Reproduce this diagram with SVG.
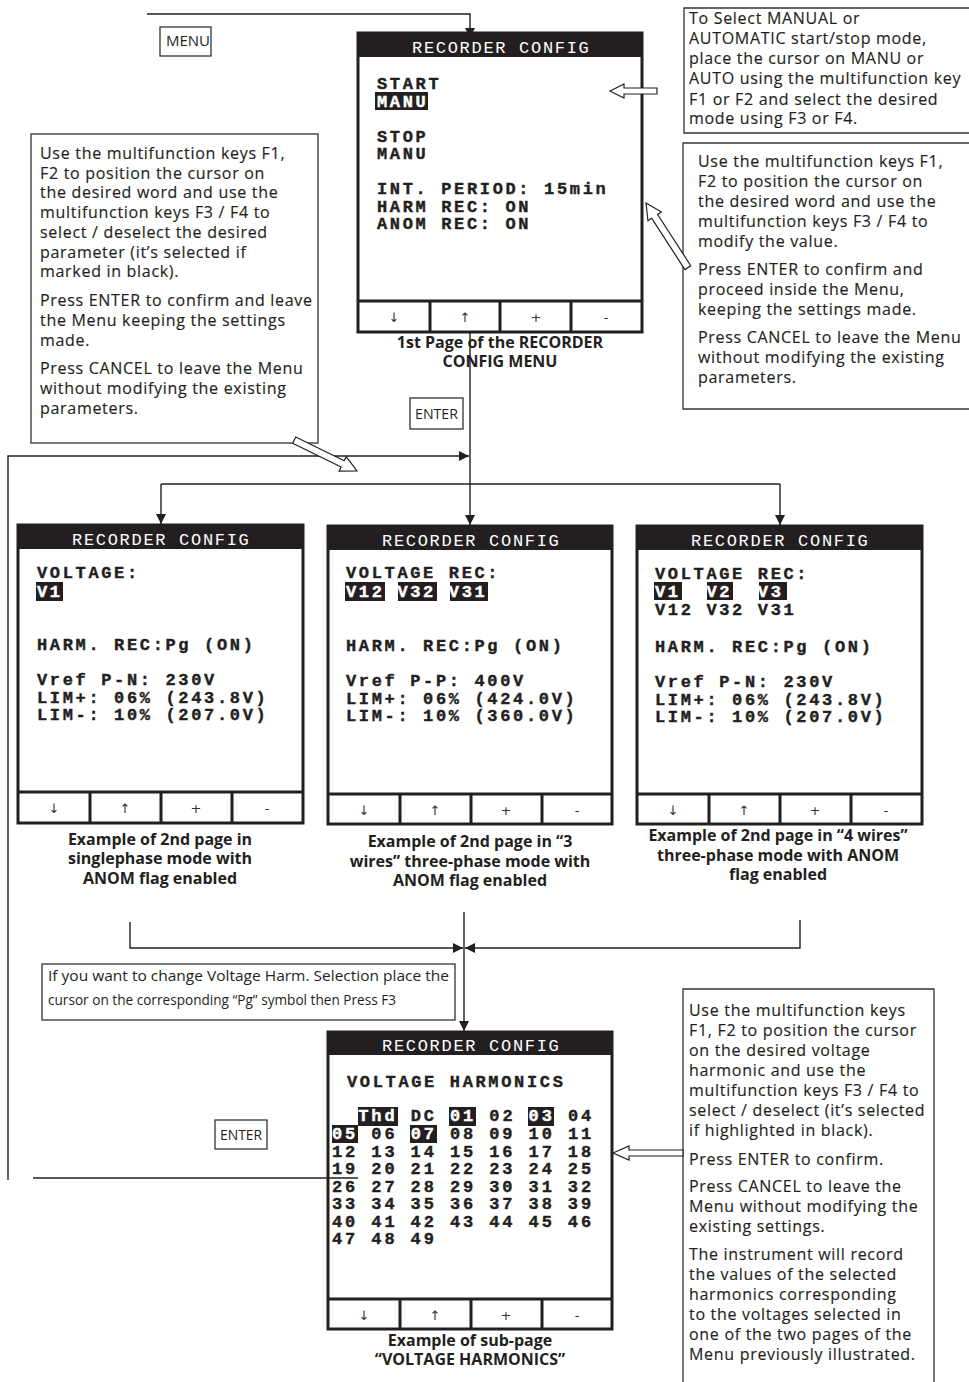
<svg xmlns="http://www.w3.org/2000/svg" width="969" height="1382" viewBox="0 0 969 1382">
<defs>
<style>
.scr{fill:#fff;stroke:#231f20;stroke-width:3}
.hdr{fill:#231f20}
.kl{stroke:#231f20;stroke-width:3;fill:none}
.ht{font-family:"Liberation Mono",monospace;font-size:17px;letter-spacing:1.7px;fill:#fff}
.st{font-family:"Liberation Mono",monospace;font-size:17px;font-weight:bold;letter-spacing:2.65px;fill:#231f20;stroke:#231f20;stroke-width:0.4}
.gt{font-family:"Liberation Mono",monospace;font-size:17px;font-weight:bold;letter-spacing:2.9px;fill:#231f20;stroke:#231f20;stroke-width:0.4}
.w{fill:#fff;stroke:#fff}
.hl{fill:#231f20}
.key{font-family:"DejaVu Sans",sans-serif;font-size:13px;fill:#333;text-anchor:middle}
.p{font-family:"Open Sans",sans-serif;font-size:16px;letter-spacing:0.7px;fill:#231f20;stroke:#231f20;stroke-width:0.15}
.cap{font-family:"Open Sans",sans-serif;font-size:16px;font-weight:bold;fill:#231f20;text-anchor:middle}
.cond{font-family:"Open Sans",sans-serif;font-size:15px;fill:#231f20}
.box{fill:none;stroke:#333;stroke-width:1.3}
.ln{fill:none;stroke:#231f20;stroke-width:1.4}
.hol{fill:#fff;stroke:#231f20;stroke-width:1.2}
</style>
<marker id="ah" viewBox="0 0 10 10" refX="10" refY="5" markerWidth="10" markerHeight="10" markerUnits="userSpaceOnUse" orient="auto">
<path d="M0,0 L10,5 L0,10 z" fill="#231f20"/>
</marker>
</defs>
<rect width="969" height="1382" fill="#fff"/>

<g id="connectors">
<path class="ln" d="M147,14 H470 V38" marker-end="url(#ah)"/>
<path class="ln" d="M470,332 V525" marker-end="url(#ah)"/>
<path class="ln" d="M8,1180 V456 H469" marker-end="url(#ah)"/>
<path class="ln" d="M161,484 H780"/>
<path class="ln" d="M161,484 V524" marker-end="url(#ah)"/>
<path class="ln" d="M780,484 V525" marker-end="url(#ah)"/>
<path class="ln" d="M130,922 V948 H463" marker-end="url(#ah)"/>
<path class="ln" d="M800,920 V948 H465" marker-end="url(#ah)"/>
<path class="ln" d="M464,912 V1031" marker-end="url(#ah)"/>
</g>

<g id="menu-key">
<rect class="box" x="160" y="27" width="51" height="29"/>
<text class="cond" x="166" y="46" font-size="13">MENU</text>
</g>
<g id="enter-key-1">
<rect class="box" x="410" y="398" width="53" height="31"/>
<text class="cond" x="415" y="419" textLength="43" lengthAdjust="spacingAndGlyphs">ENTER</text>
</g>
<g id="enter-key-2">
<rect class="box" x="215" y="1120" width="52" height="29"/>
<text class="cond" x="220" y="1140" textLength="42" lengthAdjust="spacingAndGlyphs">ENTER</text>
</g>

<g id="screen-1">
<rect class="scr" x="358" y="33" width="284" height="299"/>
<rect class="hdr" x="358" y="33" width="284" height="24"/>
<text class="ht" x="412" y="53">RECORDER CONFIG</text>
<text class="st" x="377" y="89">START</text>
<rect class="hl" x="375" y="92" width="53" height="18"/>
<text class="st w" x="377" y="107">MANU</text>
<text class="st" x="377" y="142">STOP</text>
<text class="st" x="377" y="159">MANU</text>
<text class="st" x="377" y="194" xml:space="preserve">INT. PERIOD: 15min</text>
<text class="st" x="377" y="212">HARM REC: ON</text>
<text class="st" x="377" y="229">ANOM REC: ON</text>
<path class="kl" d="M358,301 H642 M430,301 V332 M500,301 V332 M571,301 V332"/>
<text class="key" x="394" y="322">↓</text>
<text class="key" x="465" y="322">↑</text>
<text class="key" x="536" y="322">+</text>
<text class="key" x="606" y="322">-</text>
<text class="cap" x="500" y="348">1st Page of the RECORDER</text>
<text class="cap" x="500" y="367">CONFIG MENU</text>
</g>

<g id="note-start-stop">
<path class="box" d="M969,8 H684 V133 H969"/>
<text class="p" x="689" y="24">To Select MANUAL or</text>
<text class="p" x="689" y="44">AUTOMATIC start/stop mode,</text>
<text class="p" x="689" y="64">place the cursor on MANU or</text>
<text class="p" x="689" y="84">AUTO using the multifunction key</text>
<text class="p" x="689" y="105">F1 or F2 and select the desired</text>
<text class="p" x="689" y="124">mode using F3 or F4.</text>
</g>

<g id="note-modify">
<path class="box" d="M969,143 H683 V409 H969"/>
<text class="p" x="698" y="167">Use the multifunction keys F1,</text>
<text class="p" x="698" y="187">F2 to position the cursor on</text>
<text class="p" x="698" y="207">the desired word and use the</text>
<text class="p" x="698" y="227">multifunction keys F3 / F4 to</text>
<text class="p" x="698" y="247">modify the value.</text>
<text class="p" x="698" y="275">Press ENTER to confirm and</text>
<text class="p" x="698" y="295">proceed inside the Menu,</text>
<text class="p" x="698" y="315">keeping the settings made.</text>
<text class="p" x="698" y="343">Press CANCEL to leave the Menu</text>
<text class="p" x="698" y="363">without modifying the existing</text>
<text class="p" x="698" y="383">parameters.</text>
</g>

<g id="note-select">
<rect class="box" x="31" y="134" width="287" height="309"/>
<text class="p" x="40" y="159">Use the multifunction keys F1,</text>
<text class="p" x="40" y="179">F2 to position the cursor on</text>
<text class="p" x="40" y="198">the desired word and use the</text>
<text class="p" x="40" y="218">multifunction keys F3 / F4 to</text>
<text class="p" x="40" y="238">select / deselect the desired</text>
<text class="p" x="40" y="258">parameter (it’s selected if</text>
<text class="p" x="40" y="277">marked in black).</text>
<text class="p" x="40" y="306">Press ENTER to confirm and leave</text>
<text class="p" x="40" y="326">the Menu keeping the settings</text>
<text class="p" x="40" y="346">made.</text>
<text class="p" x="40" y="374">Press CANCEL to leave the Menu</text>
<text class="p" x="40" y="394">without modifying the existing</text>
<text class="p" x="40" y="414">parameters.</text>
</g>

<g id="screen-2a">
<rect class="scr" x="18" y="525" width="285" height="298"/>
<rect class="hdr" x="18" y="525" width="285" height="24"/>
<text class="ht" x="72" y="545">RECORDER CONFIG</text>
<text class="st" x="37" y="578">VOLTAGE:</text>
<rect class="hl" x="36" y="582" width="27" height="19"/>
<text class="st w" x="37" y="597">V1</text>
<text class="st" x="37" y="650" xml:space="preserve">HARM. REC:Pg (ON)</text>
<text class="st" x="37" y="685">Vref P-N: 230V</text>
<text class="st" x="37" y="703">LIM+: 06% (243.8V)</text>
<text class="st" x="37" y="720">LIM-: 10% (207.0V)</text>
<path class="kl" d="M18,792 H303 M90,792 V823 M161,792 V823 M232,792 V823"/>
<text class="key" x="54" y="813">↓</text>
<text class="key" x="125" y="813">↑</text>
<text class="key" x="196" y="813">+</text>
<text class="key" x="267" y="813">-</text>
<text class="cap" x="160" y="845">Example of 2nd page in</text>
<text class="cap" x="160" y="864">singlephase mode with</text>
<text class="cap" x="160" y="884">ANOM flag enabled</text>
</g>

<g id="screen-2b">
<rect class="scr" x="328" y="526" width="284" height="298"/>
<rect class="hdr" x="328" y="526" width="284" height="24"/>
<text class="ht" x="382" y="546">RECORDER CONFIG</text>
<text class="st" x="346" y="578">VOLTAGE REC:</text>
<rect class="hl" x="345" y="582" width="40" height="19"/>
<rect class="hl" x="398" y="582" width="39" height="19"/>
<rect class="hl" x="450" y="582" width="38" height="19"/>
<text class="st w" x="346" y="597" xml:space="preserve">V12 V32 V31</text>
<text class="st" x="346" y="651" xml:space="preserve">HARM. REC:Pg (ON)</text>
<text class="st" x="346" y="686">Vref P-P: 400V</text>
<text class="st" x="346" y="704">LIM+: 06% (424.0V)</text>
<text class="st" x="346" y="721">LIM-: 10% (360.0V)</text>
<path class="kl" d="M328,794 H612 M400,794 V824 M471,794 V824 M542,794 V824"/>
<text class="key" x="364" y="815">↓</text>
<text class="key" x="435" y="815">↑</text>
<text class="key" x="506" y="815">+</text>
<text class="key" x="577" y="815">-</text>
<text class="cap" x="470" y="847">Example of 2nd page in “3</text>
<text class="cap" x="470" y="867">wires” three-phase mode with</text>
<text class="cap" x="470" y="886">ANOM flag enabled</text>
</g>

<g id="screen-2c">
<rect class="scr" x="637" y="526" width="285" height="298"/>
<rect class="hdr" x="637" y="526" width="285" height="24"/>
<text class="ht" x="691" y="546">RECORDER CONFIG</text>
<text class="st" x="655" y="579">VOLTAGE REC:</text>
<rect class="hl" x="654" y="582" width="28" height="18"/>
<rect class="hl" x="707" y="582" width="26" height="18"/>
<rect class="hl" x="759" y="582" width="28" height="18"/>
<text class="st w" x="655" y="597" xml:space="preserve">V1  V2  V3</text>
<text class="st" x="655" y="615" xml:space="preserve">V12 V32 V31</text>
<text class="st" x="655" y="652" xml:space="preserve">HARM. REC:Pg (ON)</text>
<text class="st" x="655" y="687">Vref P-N: 230V</text>
<text class="st" x="655" y="705">LIM+: 06% (243.8V)</text>
<text class="st" x="655" y="722">LIM-: 10% (207.0V)</text>
<path class="kl" d="M637,794 H922 M709,794 V824 M780,794 V824 M851,794 V824"/>
<text class="key" x="673" y="815">↓</text>
<text class="key" x="744" y="815">↑</text>
<text class="key" x="815" y="815">+</text>
<text class="key" x="886" y="815">-</text>
<text class="cap" x="778" y="841">Example of 2nd page in “4 wires”</text>
<text class="cap" x="778" y="861">three-phase mode with ANOM</text>
<text class="cap" x="778" y="880">flag enabled</text>
</g>

<g id="note-harm">
<rect class="box" x="42" y="964" width="413" height="56"/>
<text class="cond" x="48" y="981" textLength="401" lengthAdjust="spacingAndGlyphs">If you want to change Voltage Harm. Selection place the</text>
<text class="cond" x="48" y="1005" textLength="348" lengthAdjust="spacingAndGlyphs">cursor on the corresponding “Pg” symbol then Press F3</text>
</g>

<g id="screen-3">
<rect class="scr" x="328" y="1032" width="284" height="297"/>
<rect class="hdr" x="328" y="1032" width="284" height="23"/>
<text class="ht" x="382" y="1051">RECORDER CONFIG</text>
<text class="st" x="347" y="1087" xml:space="preserve">VOLTAGE HARMONICS</text>
<rect class="hl" x="358" y="1107" width="40" height="19"/>
<rect class="hl" x="449" y="1107" width="27" height="19"/>
<rect class="hl" x="528" y="1107" width="26" height="19"/>
<rect class="hl" x="332" y="1125" width="26" height="18"/>
<rect class="hl" x="410" y="1125" width="27" height="18"/>
<text class="gt" x="332" y="1121" xml:space="preserve">  <tspan class="w">Thd</tspan> DC <tspan class="w">01</tspan> 02 <tspan class="w">03</tspan> 04</text>
<text class="gt" x="332" y="1139" xml:space="preserve"><tspan class="w">05</tspan> 06 <tspan class="w">07</tspan> 08 09 10 11</text>
<text class="gt" x="332" y="1157" xml:space="preserve">12 13 14 15 16 17 18</text>
<text class="gt" x="332" y="1174" xml:space="preserve">19 20 21 22 23 24 25</text>
<text class="gt" x="332" y="1192" xml:space="preserve">26 27 28 29 30 31 32</text>
<text class="gt" x="332" y="1209" xml:space="preserve">33 34 35 36 37 38 39</text>
<text class="gt" x="332" y="1227" xml:space="preserve">40 41 42 43 44 45 46</text>
<text class="gt" x="332" y="1244" xml:space="preserve">47 48 49</text>
<path class="kl" d="M328,1299 H612 M400,1299 V1329 M471,1299 V1329 M542,1299 V1329"/>
<text class="key" x="364" y="1320">↓</text>
<text class="key" x="435" y="1320">↑</text>
<text class="key" x="506" y="1320">+</text>
<text class="key" x="577" y="1320">-</text>
<text class="cap" x="470" y="1346">Example of sub-page</text>
<text class="cap" x="470" y="1365">“VOLTAGE HARMONICS”</text>
</g>

<g id="note-harm-select">
<path class="box" d="M683,1390 V989 H934 V1390"/>
<text class="p" x="689" y="1016">Use the multifunction keys</text>
<text class="p" x="689" y="1036">F1, F2 to position the cursor</text>
<text class="p" x="689" y="1056">on the desired voltage</text>
<text class="p" x="689" y="1076">harmonic and use the</text>
<text class="p" x="689" y="1096">multifunction keys F3 / F4 to</text>
<text class="p" x="689" y="1116">select / deselect (it’s selected</text>
<text class="p" x="689" y="1136">if highlighted in black).</text>
<text class="p" x="689" y="1165">Press ENTER to confirm.</text>
<text class="p" x="689" y="1192">Press CANCEL to leave the</text>
<text class="p" x="689" y="1212">Menu without modifying the</text>
<text class="p" x="689" y="1232">existing settings.</text>
<text class="p" x="689" y="1260">The instrument will record</text>
<text class="p" x="689" y="1280">the values of the selected</text>
<text class="p" x="689" y="1300">harmonics corresponding</text>
<text class="p" x="689" y="1320">to the voltages selected in</text>
<text class="p" x="689" y="1340">one of the two pages of the</text>
<text class="p" x="689" y="1360">Menu previously illustrated.</text>
</g>

<g id="pointers">
<path class="ln" d="M33,1178 H358"/>
<polygon class="hol" points="0,0 14,-7 14,-3 47,-3 47,3 14,3 14,7" transform="translate(610,91)"/>
<polygon class="hol" points="0,0 16,-8 16,-3.5 77,-3.5 77,3.5 16,3.5 16,8" transform="translate(646,203) rotate(57.1)"/>
<polygon class="hol" points="0,0 16,-8 16,-3.5 70,-3.5 70,3.5 16,3.5 16,8" transform="translate(357,471) rotate(206.2)"/>
<polygon class="hol" points="0,0 16,-7 16,-3 70,-3 70,3 16,3 16,7" transform="translate(613,1153)"/>
</g>
</svg>
